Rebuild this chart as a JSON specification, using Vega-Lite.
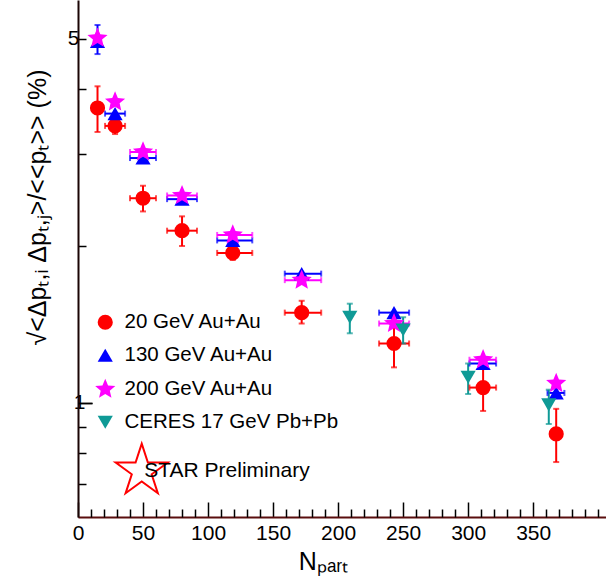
{
  "$schema": "https://vega.github.io/schema/vega-lite/v6.json",
  "width": 528,
  "height": 517,
  "autosize": {"type": "none"},
  "padding": {"left": 78, "top": 0, "right": 0, "bottom": 69},
  "background": "white",
  "config": {
    "view": {"stroke": null},
    "font": "Liberation Sans",
    "axis": {"labelFont": "Liberation Sans", "titleFont": "Liberation Sans", "labelColor": "black", "titleColor": "black", "titleFontWeight": "normal", "grid": false},
    "legend": {
      "orient": "none",
      "legendX": 17,
      "legendY": 312,
      "labelFontSize": 20.5,
      "labelFont": "Liberation Sans",
      "labelColor": "black",
      "symbolSize": 230,
      "symbolStrokeWidth": 0,
      "symbolOpacity": 1,
      "rowPadding": 12,
      "labelOffset": 9,
      "labelLimit": 400
    }
  },
  "resolve": {"axis": {"x": "independent", "y": "independent"}},
  "datasets": {
    "pts": [
      {"s": "20 GeV Au+Au", "x": 15, "y": 3.68, "ylo": 3.31, "yhi": 4.05},
      {"s": "20 GeV Au+Au", "x": 28.5, "y": 3.40, "xlo": 20.8, "xhi": 36.2, "ylo": 3.28, "yhi": 3.53},
      {"s": "20 GeV Au+Au", "x": 50, "y": 2.47, "xlo": 40, "xhi": 60, "ylo": 2.33, "yhi": 2.61},
      {"s": "20 GeV Au+Au", "x": 80, "y": 2.14, "xlo": 68.5, "xhi": 91.5, "ylo": 2.0, "yhi": 2.28},
      {"s": "20 GeV Au+Au", "x": 119, "y": 1.94, "xlo": 107, "xhi": 134, "ylo": 1.88, "yhi": 2.0},
      {"s": "20 GeV Au+Au", "x": 172, "y": 1.49, "xlo": 159, "xhi": 187, "ylo": 1.42, "yhi": 1.57},
      {"s": "20 GeV Au+Au", "x": 243, "y": 1.30, "xlo": 231.5, "xhi": 254.6, "ylo": 1.17, "yhi": 1.45},
      {"s": "20 GeV Au+Au", "x": 311.5, "y": 1.07, "xlo": 301, "xhi": 321.5, "ylo": 0.965, "yhi": 1.17},
      {"s": "20 GeV Au+Au", "x": 367.7, "y": 0.872, "ylo": 0.77, "yhi": 0.974},
      {"s": "130 GeV Au+Au", "x": 15, "y": 4.94, "ylo": 4.67, "yhi": 5.31},
      {"s": "130 GeV Au+Au", "x": 28.5, "y": 3.59, "xlo": 20.8, "xhi": 36.2},
      {"s": "130 GeV Au+Au", "x": 50, "y": 2.95, "xlo": 40, "xhi": 60},
      {"s": "130 GeV Au+Au", "x": 80, "y": 2.46, "xlo": 68.5, "xhi": 91.5},
      {"s": "130 GeV Au+Au", "x": 119, "y": 2.05, "xlo": 107, "xhi": 134},
      {"s": "130 GeV Au+Au", "x": 172, "y": 1.77, "xlo": 159, "xhi": 187},
      {"s": "130 GeV Au+Au", "x": 243, "y": 1.49, "xlo": 231.5, "xhi": 254.6},
      {"s": "130 GeV Au+Au", "x": 311.5, "y": 1.19, "xlo": 301, "xhi": 321.5},
      {"s": "130 GeV Au+Au", "x": 367.7, "y": 1.045, "xlo": 361, "xhi": 374},
      {"s": "200 GeV Au+Au", "x": 15, "y": 5.01},
      {"s": "200 GeV Au+Au", "x": 28.5, "y": 3.78},
      {"s": "200 GeV Au+Au", "x": 50, "y": 3.03, "xlo": 40, "xhi": 60},
      {"s": "200 GeV Au+Au", "x": 80, "y": 2.50, "xlo": 68.5, "xhi": 91.5},
      {"s": "200 GeV Au+Au", "x": 119, "y": 2.10, "xlo": 107, "xhi": 134},
      {"s": "200 GeV Au+Au", "x": 172, "y": 1.72, "xlo": 159, "xhi": 187},
      {"s": "200 GeV Au+Au", "x": 243, "y": 1.42, "xlo": 231.5, "xhi": 254.6},
      {"s": "200 GeV Au+Au", "x": 311.5, "y": 1.21, "xlo": 301, "xhi": 321.5},
      {"s": "200 GeV Au+Au", "x": 367.7, "y": 1.09},
      {"s": "CERES 17 GeV Pb+Pb", "x": 209, "y": 1.46, "ylo": 1.36, "yhi": 1.55},
      {"s": "CERES 17 GeV Pb+Pb", "x": 250, "y": 1.38, "ylo": 1.30, "yhi": 1.46},
      {"s": "CERES 17 GeV Pb+Pb", "x": 300, "y": 1.12, "ylo": 1.04, "yhi": 1.19},
      {"s": "CERES 17 GeV Pb+Pb", "x": 362, "y": 0.991, "ylo": 0.911, "yhi": 1.06}
    ],
    "logo": [{"x": 49, "y": 0.74, "label": "STAR Preliminary", "tx": 51}]
  },
  "data": {"name": "pts"},
  "layer": [
    {
      "layer": [
        {
          "transform": [{"filter": "isValid(datum.xlo)"}],
          "mark": {"type": "rule", "strokeWidth": 2},
          "encoding": {
            "x": {"field": "xlo", "type": "quantitative"},
            "x2": {"field": "xhi"},
            "y": {"field": "y", "type": "quantitative"},
            "color": {"field": "s", "type": "nominal"}
          }
        },
        {
          "transform": [{"filter": "isValid(datum.ylo)"}],
          "mark": {"type": "rule", "strokeWidth": 2},
          "encoding": {
            "x": {"field": "x", "type": "quantitative"},
            "y": {"field": "ylo", "type": "quantitative"},
            "y2": {"field": "yhi"},
            "color": {"field": "s", "type": "nominal"}
          }
        },
        {
          "transform": [{"filter": "isValid(datum.xlo)"}],
          "mark": {"type": "tick", "orient": "vertical", "size": 6, "thickness": 2},
          "encoding": {
            "x": {"field": "xlo", "type": "quantitative"},
            "y": {"field": "y", "type": "quantitative"},
            "color": {"field": "s", "type": "nominal"}
          }
        },
        {
          "transform": [{"filter": "isValid(datum.xlo)"}],
          "mark": {"type": "tick", "orient": "vertical", "size": 6, "thickness": 2},
          "encoding": {
            "x": {"field": "xhi", "type": "quantitative"},
            "y": {"field": "y", "type": "quantitative"},
            "color": {"field": "s", "type": "nominal"}
          }
        },
        {
          "transform": [{"filter": "isValid(datum.ylo)"}],
          "mark": {"type": "tick", "orient": "horizontal", "size": 6, "thickness": 2},
          "encoding": {
            "x": {"field": "x", "type": "quantitative"},
            "y": {"field": "ylo", "type": "quantitative"},
            "color": {"field": "s", "type": "nominal"}
          }
        },
        {
          "transform": [{"filter": "isValid(datum.ylo)"}],
          "mark": {"type": "tick", "orient": "horizontal", "size": 6, "thickness": 2},
          "encoding": {
            "x": {"field": "x", "type": "quantitative"},
            "y": {"field": "yhi", "type": "quantitative"},
            "color": {"field": "s", "type": "nominal"}
          }
        },
        {
          "mark": {"type": "point", "filled": true, "opacity": 1, "strokeWidth": 0, "size": 230},
          "encoding": {
            "x": {
              "field": "x", "type": "quantitative",
              "scale": {"domain": [0, 406], "nice": false, "zero": false},
              "axis": {
                "title": "Nₚₐᵣₜ",
                "titleFontSize": 25,
                "titleX": 245,
                "titleY": 44,
                "titleBaseline": "middle",
                "values": [0, 50, 100, 150, 200, 250, 300, 350],
                "labelOverlap": false,
                "labelFontSize": 21,
                "labelPadding": 20,
                "labelFlush": false,
                "tickSize": -15,
                "tickColor": "black",
                "tickWidth": 1.5,
                "domainColor": "#5a0e0e",
                "domainWidth": 2
              }
            },
            "y": {
              "field": "y", "type": "quantitative",
              "scale": {"type": "log", "domain": [0.604, 5.93], "nice": false},
              "axis": {
                "title": "√<Δpₜ,ᵢ Δpₜ,ⱼ>/<<pₜ>> (%)",
                "titleFontSize": 25,
                "titleX": -41,
                "titleY": 207,
                "titleAlign": "center",
                "titleBaseline": "middle",
                "values": [0.7, 0.8, 0.9, 1, 2, 3, 4, 5],
                "labelExpr": "datum.value == 1 ? '1' : datum.value == 5 ? '5' : ''",
                "labelOverlap": false,
                "labelFontSize": 21,
                "labelPadding": 7,
                "tickSize": {"condition": {"test": "datum.value == 1", "value": -14}, "value": -8},
                "tickColor": "black",
                "tickWidth": 1.5,
                "domainColor": "#1a0505",
                "domainWidth": 2
              }
            },
            "color": {
              "field": "s", "type": "nominal",
              "scale": {"domain": ["20 GeV Au+Au", "130 GeV Au+Au", "200 GeV Au+Au", "CERES 17 GeV Pb+Pb"], "range": ["#ff0000", "#0000ff", "#ff00ff", "#0f9a96"]},
              "legend": {"title": null}
            },
            "shape": {
              "field": "s", "type": "nominal",
              "scale": {"domain": ["20 GeV Au+Au", "130 GeV Au+Au", "200 GeV Au+Au", "CERES 17 GeV Pb+Pb"], "range": ["circle", "triangle-up", "M0,-1.4L0.37,-0.51L1.33,-0.43L0.6,0.19L0.82,1.13L0,0.63L-0.82,1.13L-0.6,0.19L-1.33,-0.43L-0.37,-0.51Z", "triangle-down"]},
              "legend": {"title": null}
            }
          }
        }
      ]
    },
    {
      "data": {"name": "logo"},
      "mark": {"type": "point", "filled": false, "stroke": "#ff0000", "strokeWidth": 2, "size": 3000, "shape": "M0,-1L0.2245,-0.309L0.951,-0.309L0.363,0.118L0.588,0.809L0,0.382L-0.588,0.809L-0.363,0.118L-0.951,-0.309L-0.2245,-0.309Z", "opacity": 1},
      "encoding": {
        "x": {
          "field": "x", "type": "quantitative",
          "axis": {
            "orient": "bottom",
            "title": null,
            "values": [10,20,30,40,60,70,80,90,110,120,130,140,160,170,180,190,210,220,230,240,260,270,280,290,310,320,330,340,360,370,380,390,400],
            "labels": false,
            "domain": false,
            "tickSize": -8,
            "tickColor": "black",
            "tickWidth": 1.5
          }
        },
        "y": {
          "field": "y", "type": "quantitative",
          "axis": {"orient": "left", "title": null, "values": [1], "labels": false, "domain": false, "tickSize": -14, "tickColor": "black", "tickWidth": 1.5}
        }
      }
    },
    {
      "data": {"name": "logo"},
      "mark": {"type": "text", "align": "left", "baseline": "middle", "fontSize": 21, "font": "Liberation Sans", "color": "black"},
      "encoding": {
        "x": {"field": "tx", "type": "quantitative", "axis": null},
        "y": {"field": "y", "type": "quantitative", "axis": null},
        "text": {"field": "label"}
      }
    }
  ]
}
